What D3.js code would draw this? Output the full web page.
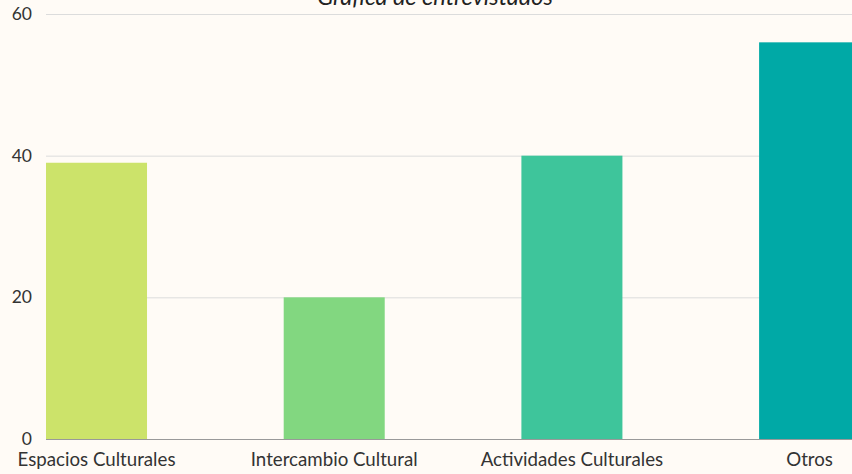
<!DOCTYPE html>
<html><head><meta charset="utf-8">
<script src="https://cdn.jsdelivr.net/npm/d3@7"></script>
<style>
html,body{margin:0;padding:0;background:#fffbf6;}
svg{display:block;font-family:Lato,"Open Sans",sans-serif;}
</style></head>
<body>
<script>
const categories = ["Espacios Culturales","Intercambio Cultural","Actividades Culturales","Otros"];
const values = [39, 20, 40, 56];
const colors = ["#cce36a","#82d780","#3ec59b","#00a9a6"];
const yTicks = [0, 20, 40, 60];
const title = "Gráfica de entrevistados";

const W = 852, H = 474;
const svg = d3.select("body").append("svg").attr("width", W).attr("height", H);
svg.append("rect").attr("width", W).attr("height", H).attr("fill", "#fffbf6");

const step = 237.7, pin = 0.575;
const x = d3.scaleBand().domain(categories)
  .range([46, 46 + step * (categories.length - pin)])
  .paddingInner(pin).paddingOuter(0);
const y = d3.scaleLinear().domain([0, 60]).range([439, 14]);

// gridlines
svg.append("g").selectAll("line").data(yTicks.filter(d => d > 0)).join("line")
  .attr("x1", 46).attr("x2", W).attr("y1", d => y(d) + 0.5).attr("y2", d => y(d) + 0.5)
  .attr("stroke", "#dcdcdc").attr("stroke-width", 1);

// y labels
svg.append("g").selectAll("text").data(yTicks).join("text")
  .attr("x", 32).attr("y", d => y(d)).attr("dy", "0.35em")
  .attr("text-anchor", "end").attr("font-size", 17.5).attr("fill", "#333")
  .text(d => d);

// bars
svg.append("g").selectAll("rect").data(values).join("rect")
  .attr("x", (d, i) => x(categories[i]))
  .attr("y", d => y(d))
  .attr("width", x.bandwidth())
  .attr("height", d => y(0) - y(d))
  .attr("fill", (d, i) => colors[i]);

// baseline
svg.append("line").attr("x1", 46).attr("x2", W).attr("y1", y(0) + 0.5).attr("y2", y(0) + 0.5)
  .attr("stroke", "#999").attr("stroke-width", 1);

// x labels
svg.append("g").selectAll("text").data(categories).join("text")
  .attr("x", d => x(d) + x.bandwidth() / 2).attr("y", 466)
  .attr("text-anchor", "middle").attr("font-size", 18.7).attr("fill", "#333")
  .text(d => d);

// title
svg.append("text").attr("x", 435).attr("y", 5).attr("text-anchor", "middle")
  .attr("font-size", 23.5).attr("font-style", "italic").attr("fill", "#222").text(title);
</script>
</body></html>
